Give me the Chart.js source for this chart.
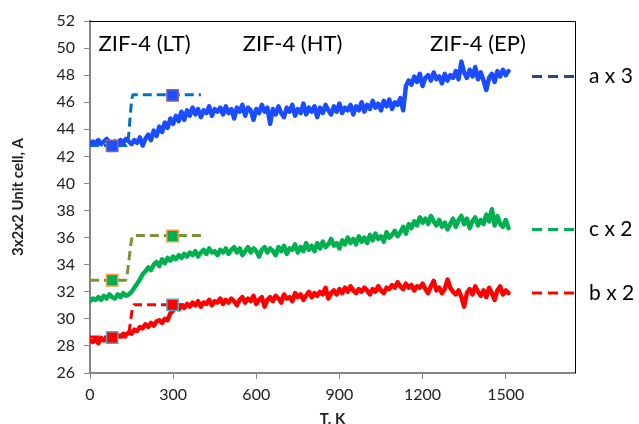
<!DOCTYPE html>
<html>
<head>
<meta charset="utf-8">
<script src="https://cdn.jsdelivr.net/npm/chart.js@4.4.0/dist/chart.umd.min.js"></script>
<style>
  body { margin: 0; background: #fff; }
  #wrap { width: 639px; height: 424px; position: relative; }
</style>
</head>
<body>
<div id="wrap"><canvas id="myChart"></canvas></div>
<script>
// temperature grid of the measured curves, K (every 10 K from 0 to 1510)
const tStep = 10;
const temps = Array.from({ length: 152 }, (_, i) => i * tStep);

// a x 3 (blue)
const aValues = [
  42.9, 43.1, 43.0, 43.2, 42.9, 43.1, 43.3, 43.0, 42.8, 43.1, 42.9, 43.2, 43.0, 43.3, 43.1, 42.9,
  43.2, 43.0, 43.4, 42.8, 43.3, 43.6, 43.2, 43.9, 43.5, 44.2, 43.8, 44.5, 44.1, 44.8, 44.4, 45.0,
  44.6, 45.3, 44.7, 45.4, 45.0, 45.6, 45.1, 45.5, 44.9, 45.4, 45.2, 45.7, 45.0, 45.5, 45.3, 45.6,
  45.1, 45.7, 45.2, 45.5, 44.8, 45.6, 45.3, 45.8, 45.0, 45.6, 45.4, 44.7, 45.5, 45.2, 45.8, 45.3,
  45.6, 44.4, 45.5, 45.1, 45.7, 45.2, 44.9, 45.6, 45.3, 45.8, 45.0, 45.5, 45.2, 45.9, 45.1, 45.6,
  45.3, 45.7, 44.9, 45.6, 45.2, 45.8, 45.4, 45.1, 45.7, 45.3, 45.9, 45.2, 45.6, 45.4, 45.8, 45.1,
  45.7, 45.4, 46.0, 45.3, 45.8, 45.5, 46.1, 45.6, 45.9, 45.4, 46.1, 45.7, 46.2, 45.5, 46.0, 45.8,
  46.3, 45.4, 47.2, 47.6, 47.3, 47.9, 47.5, 48.1, 47.2, 47.8, 48.0, 47.6, 48.2, 47.7, 47.9, 47.4,
  48.1, 47.6, 48.0, 47.8, 48.3, 47.7, 49.0, 48.2, 47.8, 48.4, 47.9, 48.6, 47.7, 48.2, 47.6, 46.9,
  47.8, 48.1, 47.5, 48.3, 47.9, 48.4, 48.0, 48.3
];

// c x 2 (green)
const cValues = [
  31.3, 31.5, 31.4, 31.6, 31.4, 31.7, 31.5, 31.8, 31.6, 31.5, 31.8, 31.6, 31.9, 31.7, 31.8, 32.0,
  32.3, 32.6, 32.9, 33.3, 33.5, 33.8, 33.6, 34.0, 34.2, 33.9, 34.4, 34.1, 34.5, 34.3, 34.6, 34.4,
  34.7, 34.5, 34.8, 34.6, 34.9, 34.7, 35.0, 34.6, 34.9, 35.1, 34.8, 35.2, 34.9, 35.0, 34.7, 35.1,
  34.9, 35.2, 34.8, 35.1, 35.3, 34.9, 35.2, 34.7, 35.0, 35.3, 34.9, 35.2, 35.0, 34.6, 35.1, 35.3,
  34.9, 35.2, 35.0, 34.7, 35.3, 35.0, 35.4, 34.8, 35.2, 35.1, 35.5, 34.9, 35.3, 35.0, 35.6, 35.1,
  35.4, 35.0, 35.6, 35.2, 35.7, 35.3, 35.5, 35.9, 35.4, 35.6, 35.2, 35.8, 35.5, 36.0, 35.6, 35.9,
  35.5, 36.1, 35.7, 36.0, 35.6, 36.2, 35.8, 36.3, 35.9, 36.1, 35.7, 36.4, 36.0, 36.2, 36.5, 36.1,
  36.4, 36.8, 36.3, 37.0, 36.7, 37.2, 36.9, 37.5, 37.1, 37.4, 37.0, 37.6, 37.2, 36.9, 37.3, 36.8,
  37.1, 36.6, 37.0, 37.4, 36.8, 37.3, 37.6, 37.0, 37.4, 36.7, 37.2, 37.5, 36.9, 37.3, 37.0, 37.7,
  37.2, 38.1, 36.9, 37.6, 37.0, 36.8, 37.3, 36.7
];

// b x 2 (red)
const bValues = [
  28.4, 28.3, 28.5, 28.2, 28.6, 28.4, 28.5, 28.7, 28.6, 28.5, 28.8, 28.7, 28.9, 28.8, 29.0, 28.9,
  29.2, 29.1, 29.4, 29.3, 29.6, 29.4, 29.7, 29.5, 29.8, 29.9, 29.7, 30.0, 29.9, 30.4, 30.6, 30.9,
  30.7, 31.0, 30.8, 31.1, 30.9, 31.2, 31.0, 31.3, 30.9, 31.2, 31.1, 31.4, 31.0, 31.3, 31.2, 31.5,
  31.1, 31.4, 31.2, 31.5, 31.3, 31.0, 31.4, 31.6, 31.2, 31.5, 31.3, 31.7, 31.1, 31.4, 31.6, 30.9,
  31.4, 31.6, 31.3, 31.7, 31.5, 31.2, 31.8, 31.5, 31.6, 31.3, 31.9, 31.6, 31.8, 31.4, 31.7, 32.0,
  31.6, 31.9, 31.7, 32.0, 31.8, 32.3, 31.5, 31.9, 32.1, 31.8, 32.2, 31.9, 32.3, 32.0, 32.4, 32.1,
  31.9, 32.2, 32.0, 32.3, 32.1, 31.8, 32.2, 32.0, 32.4, 32.1, 31.9, 32.3, 32.2, 32.5, 32.3, 32.7,
  32.4, 32.2, 32.6, 32.3, 32.5, 32.1, 32.4, 32.3, 32.6, 32.2, 31.9, 32.4, 32.8, 32.1, 32.3, 31.9,
  32.2, 32.9, 32.3, 32.0, 31.8, 32.1, 31.6, 30.9, 31.9, 32.2, 31.8, 32.4, 32.0, 31.7, 32.1, 31.6,
  32.3, 31.9, 31.4, 32.1, 32.4, 31.8, 32.1, 31.9
];

// dashed step guides (T, value)
const aStepT = [0, 133, 155, 400];
const aStepV = [42.8, 42.8, 46.55, 46.55];
const cStepT = [0, 128, 155, 405];
const cStepV = [32.85, 32.85, 36.15, 36.15];
const bStepT = [0, 135, 158, 400];
const bStepV = [28.65, 28.65, 31.05, 31.05];

// square markers
const markT = [80, 298];
const aMarks = [42.77, 46.5];
const cMarks = [32.85, 36.12];
const bMarks = [28.62, 31.03];

// legend dashes at the right side
const legendT = [1595, 1750];
const legendNames = ['a x 3', 'c x 2', 'b x 2'];
const legendLevels = [47.9, 36.6, 31.9];

// phase labels
const phaseNames = ['ZIF-4 (LT)', 'ZIF-4 (HT)', 'ZIF-4 (EP)'];
const phaseT = [197, 731, 1400];
const phaseY = 50.3;

const xTicks = [0, 300, 600, 900, 1200, 1500];

function pts(xs, ys) {
  return ys.map((y, i) => ({ x: xs[i], y: y }));
}

function curve(values, color) {
  return {
    data: pts(temps, values), showLine: true, borderColor: color,
    borderWidth: 4.5, borderJoinStyle: 'round', borderCapStyle: 'round',
    pointRadius: 0, tension: 0, order: 2
  };
}

function step(xs, ys, color) {
  return {
    data: pts(xs, ys), showLine: true, borderColor: color, borderWidth: 3,
    borderDash: [9, 5], pointRadius: 0, cubicInterpolationMode: 'monotone', order: 3
  };
}

function marks(ys, fill, edge) {
  return {
    data: pts(markT, ys), showLine: false, pointStyle: 'rect', pointRadius: 8,
    backgroundColor: fill, borderColor: edge, borderWidth: 1.5, order: 0
  };
}

const legendColors = ['#254b7a', '#00b050', '#ff0000'];

const frame = {
  id: 'frame',
  beforeDatasetsDraw(chart) {
    const { ctx, chartArea: a } = chart;
    ctx.save();
    ctx.strokeStyle = '#000';
    ctx.lineWidth = 1;
    ctx.beginPath();
    ctx.moveTo(a.left, a.top + 0.5);
    ctx.lineTo(a.right + 0.5, a.top + 0.5);
    ctx.lineTo(a.right + 0.5, a.bottom);
    ctx.stroke();
    ctx.restore();
  },
  afterDraw(chart) {
    const { ctx, chartArea: a, scales } = chart;
    ctx.save();
    ctx.fillStyle = '#000';
    ctx.font = '21px Lato';
    ctx.textBaseline = 'middle';
    ctx.textAlign = 'left';
    legendNames.forEach((n, i) => {
      ctx.fillText(n, a.right + 14, scales.y.getPixelForValue(legendLevels[i]));
    });
    ctx.font = '22px Lato';
    ctx.textAlign = 'center';
    phaseNames.forEach((n, i) => {
      ctx.fillText(n, scales.x.getPixelForValue(phaseT[i]), scales.y.getPixelForValue(phaseY));
    });
    ctx.restore();
  }
};

const datasets = [
  marks(aMarks, '#1f4fff', '#8064a2'),
  marks(cMarks, '#00b050', '#f79646'),
  marks(bMarks, '#ff0000', '#4bacc6'),
  curve(aValues, '#1a4dff'),
  curve(cValues, '#00b050'),
  curve(bValues, '#ff0000'),
  step(aStepT, aStepV, '#0070c0'),
  step(cStepT, cStepV, '#77933c'),
  step(bStepT, bStepV, '#ff0000')
];
legendLevels.forEach((v, i) => {
  datasets.push({
    data: pts(legendT, [v, v]), showLine: true, borderColor: legendColors[i],
    borderWidth: 3, borderDash: [10, 6], pointRadius: 0, order: 3
  });
});

new Chart(document.getElementById('myChart'), {
  type: 'scatter',
  data: { datasets: datasets },
  plugins: [frame],
  options: {
    responsive: true,
    maintainAspectRatio: false,
    animation: false,
    layout: { padding: { top: 21, right: 64, left: 0, bottom: 0 } },
    plugins: { legend: { display: false }, tooltip: { enabled: false } },
    scales: {
      x: {
        type: 'linear', min: 0, max: 1750,
        afterBuildTicks: s => { s.ticks = xTicks.map(v => ({ value: v })); },
        afterFit: s => { s.height = 51; },
        grid: { drawOnChartArea: false, drawTicks: true, tickLength: 6, color: '#868686' },
        border: { color: '#868686', width: 2 },
        ticks: { color: '#222', font: { family: 'Lato', size: 16 }, padding: 6, maxRotation: 0, callback: v => String(v) },
        title: { display: true, text: 'T, K', color: '#222', font: { family: 'Lato', size: 15, weight: 'bold' }, padding: { top: 0, bottom: -4 } }
      },
      y: {
        min: 26, max: 52,
        ticks: { stepSize: 2, color: '#222', font: { family: 'Lato', size: 16 }, padding: 9 },
        afterFit: s => { s.width = 90; },
        grid: { drawOnChartArea: false, drawTicks: true, tickLength: 6, color: '#868686' },
        border: { color: '#868686', width: 2 },
        title: { display: true, text: '3x2x2 Unit cell, A', color: '#222', font: { family: 'Lato', size: 15, weight: 'bold' }, padding: { top: 9, bottom: 0 } }
      }
    }
  }
});
</script>
</body>
</html>
